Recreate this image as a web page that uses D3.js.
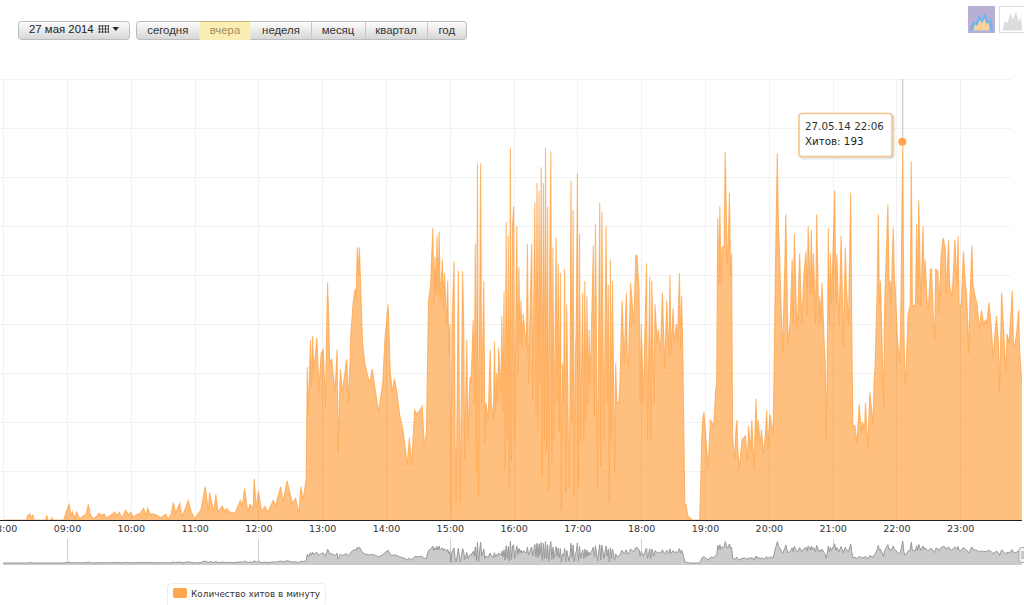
<!DOCTYPE html>
<html><head><meta charset="utf-8">
<script src="https://cdn.jsdelivr.net/npm/d3@7/dist/d3.min.js"></script>
<style>html,body{margin:0;padding:0;background:#fff;overflow:hidden}svg{display:block}</style>
</head><body><svg id="c" width="1024" height="605"></svg>
<script>
// [minute within the hour, hits per minute]
const hits08=[[0,0],[22,0],[23,2.5],[24,2],[25,3.2],[26,1.5],[28,2.5],[29,0],[40,0],[41,2.5],[42,0],[45,0],[46,1.2],[47,0],[57,0],[59,4]];
const hits09=[[0,5],[2,8],[4,2],[5,4],[7,1],[9,4],[12,0.5],[15,2],[18,3],[20,8],[22,2.5],[25,0.5],[28,2],[30,3.4],[32,2.5],[35,3],[37,1],[40,2],[45,4],[47,2],[49,4],[52,1],[55,5],[58,2.5]];
const hits10=[[0,4],[2,1.5],[5,2.5],[9,3.4],[12,6],[14,2.5],[16,6],[18,3],[21,3],[24,2.5],[28,1],[33,3],[35,0.5],[38,3],[40,9],[42,3.4],[46,8.5],[48,2],[50,4],[54,10],[57,4]];
const hits11=[[0,0.5],[3,3],[6,5],[10,17],[13,4],[14,14],[18,4],[20,13],[22,4],[26,7],[29,4],[30,6],[33,4],[38,3.4],[43,10],[45,7],[47,16],[50,4],[52,8],[55,6],[56,21],[58,6]];
const hits12=[[0,15],[3,4],[6,7],[9,4],[14,10],[16,7],[21,17],[23,9],[27,20],[30,13],[32,8.5],[35,11],[38,3.4],[40,17],[42,10],[45,21],[46,78],[47,54],[49,92],[50,68],[51,94],[52,75],[55,93],[57,66],[59,85]];
const hits13=[[1,87],[3,58],[5,121],[6,105],[7,80],[9,82],[12,65],[14,87],[15,34],[17,77],[19,65],[23,82],[25,60],[27,95],[29,110],[31,118],[32,112],[33,139],[34,125],[35,139],[37,105],[38,90],[40,80],[43,73],[45,70],[47,77],[50,66],[53,55],[57,70],[59,92]];
const hits14=[[2,110],[4,75],[6,65],[8,72],[10,66],[13,53],[16,46],[20,28],[22,42],[24,28],[27,56],[29,54],[32,56],[34,58],[36,38],[38,44],[40,112],[42,120],[44,149],[45,110],[46,134],[47,115],[48,145],[49,115],[50,147],[51,112],[53,133],[54,108],[55,126],[57,100],[58,122],[59,85]];
const hits15=[[0,100],[1,3],[2,96],[4,132],[5,40],[6,9],[8,127],[9,60],[10,9],[12,127],[13,102],[14,31],[16,92],[17,40],[19,73],[20,70],[22,102],[23,60],[24,141],[25,24],[26,182],[27,13],[29,182],[30,60],[32,122],[33,39],[34,60],[36,50],[38,87],[39,60],[41,51],[42,91],[43,55],[44,75],[45,60],[46,88],[48,65],[49,104],[50,55],[51,117],[52,26],[53,152],[54,40],[55,145],[56,17],[57,190],[58,30],[59,150]];
const hits16=[[0,160],[1,40],[3,150],[4,75],[5,129],[6,90],[7,112],[8,88],[9,105],[12,88],[13,141],[14,70],[17,141],[18,61],[20,162],[21,55],[22,172],[23,46],[24,168],[25,70],[26,180],[27,22],[28,172],[29,40],[30,190],[31,35],[32,160],[33,15],[34,130],[35,188],[36,30],[37,139],[38,41],[40,144],[41,60],[42,131],[43,45],[44,126],[45,5],[46,80],[47,60],[48,128],[49,14],[50,110],[52,17],[53,60],[54,173],[55,50],[56,158],[57,12],[58,80],[59,100]];
const hits17=[[0,177],[1,17],[2,146],[3,40],[5,116],[6,40],[7,122],[8,50],[9,114],[10,60],[11,97],[12,70],[13,90],[15,140],[16,53],[17,151],[19,17],[20,100],[21,162],[22,27],[23,157],[25,40],[27,150],[28,60],[29,120],[30,9],[31,133],[32,40],[33,122],[35,24],[36,80],[37,60],[39,60],[40,70],[42,112],[44,80],[46,116],[47,80],[48,78],[49,100],[50,121],[53,100],[55,135],[56,135],[58,117],[59,60]];
const hits18=[[0,100],[2,60],[5,131],[6,41],[8,124],[9,41],[10,122],[12,60],[13,110],[15,90],[16,97],[18,85],[20,116],[22,77],[24,112],[26,83],[27,125],[28,85],[30,108],[31,90],[33,100],[34,90],[36,126],[37,87],[38,114],[39,90],[40,50],[41,8],[42,8],[44,2],[46,1],[48,0],[55,0],[56,20],[57,42],[58,52],[59,55]];
const hits19=[[0,48],[3,26],[5,51],[8,48],[9,55],[10,66],[11,70],[12,154],[13,120],[14,160],[15,120],[16,139],[18,140],[19,188],[21,130],[22,143],[23,167],[24,125],[25,136],[26,41],[28,31],[29,45],[30,51],[31,35],[32,26],[35,41],[38,43],[40,30],[41,48],[43,35],[44,51],[46,26],[48,62],[49,40],[50,51],[52,38],[53,46],[55,34],[57,45],[58,56],[59,36]];
const hits20=[[1,54],[4,44],[5,75],[6,120],[8,187],[9,150],[10,138],[12,100],[13,85],[15,129],[16,156],[18,90],[20,100],[22,133],[23,100],[24,146],[26,105],[27,97],[29,136],[31,100],[33,125],[35,137],[36,105],[37,150],[39,115],[40,148],[41,115],[42,136],[44,100],[45,156],[47,100],[48,114],[49,100],[50,121],[52,92],[53,80],[54,41],[55,80],[56,149],[57,100],[58,136],[59,110]];
const hits21=[[2,168],[3,110],[4,136],[6,99],[8,145],[9,120],[10,88],[12,139],[13,118],[15,100],[17,167],[18,100],[19,48],[21,48],[23,39],[25,59],[27,44],[28,50],[30,46],[31,60],[33,36],[35,65],[38,49],[39,70],[40,78],[42,120],[43,156],[44,110],[45,122],[46,100],[48,58],[49,110],[52,161],[53,120],[54,122],[55,110],[57,149],[58,125],[59,117]];
const hits22=[[1,92],[3,80],[4,100],[6,193],[7,100],[8,70],[9,75],[10,90],[11,105],[13,110],[14,183],[15,110],[16,109],[18,110],[19,151],[20,110],[21,163],[23,109],[24,130],[25,150],[26,120],[27,133],[29,110],[30,107],[32,128],[33,128],[35,100],[36,92],[37,128],[39,127],[40,105],[42,135],[44,144],[46,138],[47,115],[49,143],[50,120],[52,114],[53,120],[55,143],[57,120],[58,145],[59,110]];
const hits23=[[1,109],[3,137],[5,120],[6,115],[8,85],[9,110],[11,140],[12,120],[14,114],[16,110],[18,97],[20,107],[22,100],[24,102],[25,100],[27,111],[29,100],[31,83],[34,104],[36,90],[37,66],[39,116],[41,95],[43,75],[44,95],[46,90],[49,117],[50,90],[51,88],[53,95],[55,107],[56,85],[58,70]];
const hourSeries=[hits08,hits09,hits10,hits11,hits12,hits13,hits14,hits15,hits16,hits17,hits18,hits19,hits20,hits21,hits22,hits23];
const gridValues=[25,50,75,100,125,150,175,200,225];
const rangeButtons=["сегодня","вчера","неделя","месяц","квартал","год"];
const navMarks=[9,12,15,18,21];
const dateLabel="27 мая 2014";
const tipDate="27.05.14 22:06", tipHits="Хитов: 193", legendLabel="Количество хитов в минуту";
const focusHour=22, focusMinute=6, focusHits=193;

const T=(h,m)=>new Date(2014,4,27,h,m);
const data=hourSeries.flatMap((rows,i)=>rows.map(([m,v])=>({t:T(8+i,m),v})));
const hours=d3.range(8,24);
const svg=d3.select("#c");
const x=d3.scaleTime().domain([T(8,0),T(24,0)]).range([3.2,1024]);
const y=d3.scaleLinear().domain([0,225]).range([520,79]);
const yNav=d3.scaleLinear().domain([0,193]).range([563,541]);
const hx=h=>Math.round(x(T(h,0)))+.5;
const defs=svg.append("defs");
const gr=defs.append("linearGradient").attr("id","btn").attr("x1",0).attr("x2",0).attr("y1",0).attr("y2",1);
gr.append("stop").attr("offset","0").attr("stop-color","#fdfdfd");
gr.append("stop").attr("offset","1").attr("stop-color","#d6d6d6");
defs.append("clipPath").attr("id","plot").append("rect").attr("x",0).attr("y",60).attr("width",1022).attr("height",461);
const sh=defs.append("filter").attr("id","sh").attr("x","-20%").attr("y","-20%").attr("width","140%").attr("height","150%");
sh.append("feDropShadow").attr("dx",1).attr("dy",1).attr("stdDeviation",1).attr("flood-color","#000").attr("flood-opacity",.25);

// grid
const grid=svg.append("g").attr("stroke","#f1f1f1").attr("stroke-width",1);
grid.selectAll("line.h").data(gridValues).join("line").attr("class","h").attr("x1",0).attr("x2",1011)
  .attr("y1",d=>Math.round(y(d))+.5).attr("y2",d=>Math.round(y(d))+.5);
grid.selectAll("line.v").data(hours).join("line").attr("class","v").attr("y1",79).attr("y2",520)
  .attr("x1",hx).attr("x2",hx);

// area
const plot=svg.append("g").attr("clip-path","url(#plot)");
plot.append("path").datum(data).attr("fill","#ffa64d").attr("fill-opacity",.72)
  .attr("d",d3.area().x(d=>x(d.t)).y0(y(0)).y1(d=>y(d.v)));
plot.append("path").datum(data).attr("fill","none").attr("stroke","#ffa345").attr("stroke-opacity",.75).attr("stroke-width",1.1)
  .attr("d",d3.line().x(d=>x(d.t)).y(d=>y(d.v)));

// grid lines showing faintly through the filled area, clipped to the area's outline
defs.append("clipPath").attr("id","areaClip").append("path").datum(data)
  .attr("d",d3.area().x(d=>x(d.t)).y0(y(0)).y1(d=>y(d.v)));
svg.append("g").attr("clip-path","url(#areaClip)").selectAll("line").data(hours).join("line")
  .attr("stroke","#e8a15c").attr("stroke-opacity",.3).attr("y1",79).attr("y2",520).attr("x1",hx).attr("x2",hx);

// axis
const ax=svg.append("g").attr("transform","translate(0,520.5)")
  .call(d3.axisBottom(x).tickValues(hours.map(h=>T(h,0))).tickSize(0).tickPadding(5).tickFormat(d3.timeFormat("%H:%M")));
ax.select(".domain").attr("stroke","#222").attr("stroke-width",1.2).attr("d","M0,0H1022");
ax.selectAll("text").attr("font-family","DejaVu Sans").attr("font-size",9.5).attr("fill","#333");

// crosshair and tooltip
const fx=x(T(focusHour,focusMinute)), fy=y(focusHits);
svg.append("line").attr("x1",fx).attr("x2",fx).attr("y1",79).attr("y2",fy).attr("stroke","#c4c4c4").attr("stroke-width",1);
svg.append("circle").attr("cx",fx-.5).attr("cy",fy).attr("r",4).attr("fill","#ffa64d");
svg.append("rect").attr("x",799).attr("y",113.5).attr("width",93).attr("height",43).attr("rx",3)
  .attr("fill","#fff").attr("stroke","#f5c690").attr("stroke-width",1.6).attr("filter","url(#sh)");
svg.append("text").attr("x",805).attr("y",130).attr("font-family","DejaVu Sans").attr("font-size",10.3).attr("fill","#333").text(tipDate);
svg.append("text").attr("x",805).attr("y",145).attr("font-family","DejaVu Sans").attr("font-size",10.3).attr("fill","#222").text(tipHits);

// navigator
const nav=svg.append("g");
nav.selectAll("line").data(navMarks).join("line").attr("stroke","#d0d0d0")
  .attr("x1",hx).attr("x2",hx).attr("y1",539).attr("y2",563);
nav.append("path").datum(data).attr("fill","#cbcbcb")
  .attr("d",d3.area().x(d=>x(d.t)).y0(565).y1(d=>yNav(d.v)));
nav.append("path").datum(data).attr("fill","none").attr("stroke","#999").attr("stroke-width",1)
  .attr("d",d3.line().x(d=>x(d.t)).y(d=>yNav(d.v)));
nav.append("rect").attr("x",1019).attr("y",547.5).attr("width",9).attr("height",15).attr("rx",3).attr("fill","#f4f4f4").attr("stroke","#aaa");
nav.selectAll("line.g").data([1022,1024]).join("line").attr("class","g").attr("x1",d=>d).attr("x2",d=>d).attr("y1",551).attr("y2",559).attr("stroke","#999");

// date button
svg.append("rect").attr("x",18.5).attr("y",21.5).attr("width",111).attr("height",18).attr("rx",3).attr("fill","url(#btn)").attr("stroke","#bdbdbd");
svg.append("text").attr("x",29).attr("y",33).attr("font-family","Liberation Sans").attr("font-size",11.4).attr("fill","#222").text(dateLabel);
const cal=svg.append("g").attr("stroke","#333").attr("stroke-width",.8);
d3.range(4).forEach(i=>{cal.append("line").attr("x1",99.5+i*3).attr("x2",99.5+i*3).attr("y1",25).attr("y2",33);});
d3.range(3).forEach(i=>{cal.append("line").attr("x1",98).attr("x2",109).attr("y1",26+i*3).attr("y2",26+i*3);});
svg.append("path").attr("d","M112.5,27h6.5l-3.2,4z").attr("fill","#222");

// range buttons
const btnEdges=[136.5,199,251,311,365,427,466.5];
svg.append("rect").attr("x",136.5).attr("y",21.5).attr("width",330).attr("height",18).attr("rx",3).attr("fill","url(#btn)").attr("stroke","#bdbdbd");
svg.append("rect").attr("x",199.5).attr("y",21).attr("width",51).attr("height",19).attr("fill","#fbeeb4");
svg.append("line").attr("x1",199.5).attr("x2",250.5).attr("y1",21.5).attr("y2",21.5).attr("stroke","#c9b67a");
svg.selectAll("line.sep").data(btnEdges.slice(3,6)).join("line").attr("class","sep").attr("x1",d=>d+.5).attr("x2",d=>d+.5).attr("y1",22).attr("y2",39).attr("stroke","#c8c8c8");
svg.selectAll("text.btn").data(rangeButtons).join("text").attr("class","btn")
  .attr("x",(d,i)=>(btnEdges[i]+btnEdges[i+1])/2).attr("y",33.5).attr("text-anchor","middle")
  .attr("font-family","Liberation Sans").attr("font-size",11.4).attr("fill",(d,i)=>i===1?"#a08f5e":"#333").text(d=>d);

// chart type icons
const flame="M0,20 L3,10 L6,13 L10,3 L13,9 L17,1 L20,11 L23,7 L25,20 Z";
const ic1=svg.append("g").attr("transform","translate(968,6)");
ic1.append("rect").attr("width",27).attr("height",27).attr("fill","#b8aed6");
ic1.append("path").attr("d",flame).attr("transform","translate(2,5) scale(.92,1)").attr("fill","#6fb4ea");
ic1.append("path").attr("d",flame).attr("transform","translate(5,12) scale(.68,.62)").attr("fill","#fcd29a");
const ic2=svg.append("g").attr("transform","translate(999.5,6.5)");
ic2.append("rect").attr("width",26).attr("height",26).attr("fill","#fff").attr("stroke","#ddd");
ic2.append("path").attr("d",flame).attr("transform","translate(3,4) scale(.8,1)").attr("fill","#dcdcdc");

// legend
svg.append("rect").attr("x",167.5).attr("y",583.5).attr("width",158).attr("height",24).attr("rx",4).attr("fill","#fff").attr("stroke","#ececec");
svg.append("rect").attr("x",173).attr("y",588).attr("width",14).attr("height",10).attr("rx",2).attr("fill","#ffa64d");
svg.append("text").attr("x",191).attr("y",597).attr("font-family","DejaVu Sans").attr("font-size",8.9).attr("fill","#333").text(legendLabel);
</script></body></html>
